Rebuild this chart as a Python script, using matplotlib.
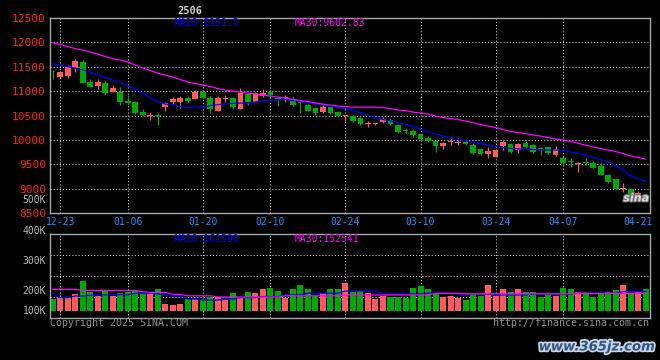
import numpy as np
import matplotlib
matplotlib.use("Agg")
import matplotlib.pyplot as plt
import matplotlib.patheffects as pe

# trading days on the chart (12-20 .. 04-22)
dates = ["12-20", "12-23", "12-24", "12-25", "12-26", "12-27", "12-30", "12-31",
         "01-02", "01-03", "01-06", "01-07", "01-08", "01-09", "01-10", "01-13",
         "01-14", "01-15", "01-16", "01-17", "01-20", "01-21", "01-22", "01-23",
         "01-24", "01-27", "02-05", "02-06", "02-07", "02-10", "02-11", "02-12",
         "02-13", "02-14", "02-17", "02-18", "02-19", "02-20", "02-21", "02-24",
         "02-25", "02-26", "02-27", "02-28", "03-03", "03-04", "03-05", "03-06",
         "03-07", "03-10", "03-11", "03-12", "03-13", "03-14", "03-17", "03-18",
         "03-19", "03-20", "03-21", "03-24", "03-25", "03-26", "03-27", "03-28",
         "03-31", "04-01", "04-02", "04-03", "04-07", "04-08", "04-09", "04-10",
         "04-11", "04-14", "04-15", "04-16", "04-17", "04-18", "04-21", "04-22"]

opens = [11300, 11300, 11310, 11480, 11590, 11180, 11100, 11160, 10990, 10990,
         10790, 10770, 10580, 10480, 10520, 10680, 10770, 10770, 10865, 10840,
         10975, 10855, 10600, 10845, 10866, 10640, 10950, 10785, 10890, 10990,
         10860, 10850, 10830, 10765, 10716, 10650, 10570, 10680, 10570, 10480,
         10495, 10440, 10320, 10320, 10360, 10415, 10300, 10200, 10190, 10120,
         10040, 9985, 9865, 9960, 9945, 9965, 9890, 9810, 9710, 9655,
         9865, 9915, 9790, 9945, 9890, 9825, 9850, 9700, 9620, 9555,
         9515, 9545, 9530, 9465, 9280, 9190, 9000, 8990, 8770, 8825]
highs = [11430, 11410, 11530, 11660, 11640, 11250, 11250, 11210, 11120, 11080,
         10930, 10790, 10630, 10570, 10560, 10780, 10870, 10890, 10890, 11020,
         11000, 10900, 10900, 10930, 10870, 11060, 10960, 10990, 11040, 11030,
         10870, 10920, 10900, 10790, 10730, 10680, 10740, 10700, 10590, 10520,
         10510, 10460, 10380, 10350, 10460, 10440, 10330, 10250, 10220, 10140,
         10075, 10000, 9960, 10050, 10030, 9990, 9930, 9830, 9860, 9810,
         10000, 9930, 9945, 9970, 9910, 9860, 9870, 9870, 9660, 9630,
         9555, 9620, 9560, 9540, 9300, 9200, 9110, 9000, 8960, 8905]
lows = [11240, 11270, 11260, 11400, 11160, 11080, 11050, 10930, 10980, 10720,
        10720, 10530, 10480, 10400, 10300, 10590, 10740, 10660, 10770, 10830,
        10840, 10560, 10590, 10780, 10640, 10630, 10720, 10780, 10880, 10840,
        10700, 10770, 10700, 10555, 10590, 10510, 10560, 10530, 10470, 10380,
        10370, 10300, 10260, 10300, 10340, 10300, 10150, 10130, 10060, 10000,
        9960, 9760, 9820, 9900, 9890, 9890, 9710, 9700, 9620, 9640,
        9790, 9740, 9740, 9830, 9740, 9690, 9710, 9660, 9480, 9450,
        9340, 9480, 9420, 9270, 9120, 8980, 8940, 8720, 8760, 8730]
closes = [11280, 11390, 11510, 11610, 11170, 11090, 11180, 10970, 11060, 10770,
          10765, 10560, 10510, 10495, 10500, 10750, 10840, 10850, 10790, 10990,
          10860, 10630, 10866, 10855, 10675, 10970, 10785, 10970, 10960, 10920,
          10845, 10870, 10716, 10750, 10600, 10550, 10670, 10545, 10495, 10490,
          10385, 10320, 10330, 10345, 10420, 10320, 10165, 10190, 10100, 10010,
          9970, 9865, 9945, 9970, 9955, 9920, 9740, 9710, 9775, 9790,
          9965, 9760, 9915, 9850, 9760, 9815, 9730, 9810, 9520, 9545,
          9525, 9535, 9430, 9280, 9130, 8985, 9010, 8730, 8905, 8815]

ma10 = [11555, 11534, 11503, 11473, 11432, 11391, 11329, 11278, 11227, 11175,
        11104, 11042, 10960, 10858, 10786, 10735, 10714, 10683, 10667, 10673,
        10673, 10704, 10724, 10735, 10749, 10755, 10755, 10776, 10802, 10817,
        10817, 10827, 10806, 10786, 10765, 10735, 10714, 10694, 10663, 10642,
        10601, 10560, 10509, 10458, 10417, 10386, 10355, 10314, 10273, 10222,
        10167, 10120, 10079, 10038, 10007, 9982, 9956, 9925, 9894, 9859,
        9843, 9826, 9816, 9806, 9802, 9796, 9792, 9792, 9792, 9751,
        9720, 9689, 9638, 9597, 9546, 9474, 9371, 9269, 9197, 9152]
ma30 = [11989, 11958, 11913, 11872, 11842, 11800, 11760, 11708, 11667, 11637,
        11596, 11534, 11473, 11421, 11370, 11329, 11288, 11237, 11186, 11155,
        11124, 11093, 11052, 11022, 11001, 10980, 10960, 10940, 10919, 10899,
        10878, 10857, 10827, 10806, 10786, 10755, 10734, 10714, 10693, 10683,
        10673, 10673, 10673, 10673, 10663, 10642, 10611, 10601, 10570, 10550,
        10529, 10488, 10458, 10437, 10417, 10386, 10355, 10314, 10283, 10253,
        10212, 10171, 10150, 10130, 10099, 10078, 10048, 10017, 9996, 9966,
        9929, 9894, 9853, 9822, 9791, 9761, 9720, 9668, 9638, 9603]

volumes = [124000, 127500, 127500, 149000, 214000, 160500, 140500, 165500, 140500, 152500,
           157500, 167500, 152500, 149000, 174000, 99000, 94000, 99000, 124000, 124000,
           124000, 135500, 135500, 119000, 155500, 135500, 160500, 155500, 174000, 180500,
           164000, 130500, 174000, 194000, 174000, 140500, 155500, 174000, 174000, 204000,
           157500, 164000, 152500, 124000, 140500, 132500, 135500, 130500, 180500, 189000,
           174000, 152500, 135500, 140500, 130500, 119000, 152500, 140500, 194000, 139000,
           174000, 157500, 174000, 160500, 157500, 135500, 152500, 139000, 180500, 174000,
           157500, 157500, 135500, 152500, 157500, 169000, 194000, 152500, 164000, 174000]
vol_ma10 = [154000, 131000, 131000, 139000, 139000, 143000, 144000, 145000, 144000, 146000,
            145000, 152000, 153000, 152000, 151000, 141000, 141000, 140000, 124000, 124000,
            119000, 119000, 119000, 124000, 124000, 131000, 131000, 131000, 136000, 136000,
            136000, 144000, 144000, 144000, 153000, 153000, 153000, 153000, 153000, 164000,
            164000, 164000, 164000, 164000, 149000, 149000, 149000, 149000, 149000, 149000,
            153000, 153000, 153000, 153000, 148000, 148000, 148000, 148000, 148000, 144000,
            144000, 144000, 144000, 144000, 148000, 148000, 148000, 148000, 148000, 148000,
            153000, 153000, 153000, 153000, 153000, 153000, 161000, 161000, 161000, 161590]
vol_ma30 = [172000, 172000, 172000, 172000, 167000, 167000, 167000, 167000, 167000, 167000,
            167000, 167000, 160000, 157000, 157000, 157000, 147000, 147000, 140000, 140000,
            140000, 140000, 134000, 134000, 134000, 134000, 134000, 134000, 134000, 134000,
            134000, 140000, 140000, 140000, 140000, 140000, 140000, 140000, 140000, 144000,
            144000, 144000, 144000, 144000, 144000, 144000, 144000, 144000, 144000, 144000,
            144000, 152000, 152000, 152000, 152000, 150000, 150000, 150000, 150000, 150000,
            150000, 150000, 150000, 150000, 150000, 150000, 150000, 150000, 150000, 150000,
            151000, 151000, 151000, 151000, 152000, 152000, 152000, 152000, 152500, 152541]

tick_dates = ["12-23", "01-06", "01-20", "02-10", "02-24", "03-10", "03-24", "04-07", "04-21"]
price_ticks = [8500, 9000, 9500, 10000, 10500, 11000, 11500, 12000, 12500]
vol_labels = ["500K", "400K", "300K", "200K", "100K"]
vol_label_pos = [1.405, 1.036, 0.679, 0.321, 0.083]   # axes fraction, as placed by sina

RED = "#ff5a5a"
GREEN = "#00aa00"
GRID = "#c8c8c8"
FRAME = "#a8a8a8"
MONO = "DejaVu Sans Mono"
dotted = (0, (1, 2))

x = np.arange(len(dates))
o = np.array(opens)
c = np.array(closes)
up = c >= o
colors = [RED if u else GREEN for u in up]

fig = plt.figure(figsize=(6.6, 3.6), dpi=100, facecolor="black")
ax = fig.add_axes([50 / 660, 1 - 213 / 360, 600 / 660, 195 / 360], facecolor="black")
axv = fig.add_axes([50 / 660, 1 - 318 / 360, 600 / 660, 84 / 360], facecolor="black", sharex=ax)

xmin, xmax = -0.36, 79.57
grid_idx = [dates.index(d) for d in tick_dates[:-1]]

# ---- price panel ----
ax.set_xlim(xmin, xmax)
ax.set_ylim(8500, 12500)
ax.set_axisbelow(True)
ax.set_yticks(price_ticks)
ax.set_yticklabels([str(p) for p in price_ticks], color="#ff2020", family=MONO, fontsize=8)
ax.grid(axis="y", color=GRID, linestyle=dotted, linewidth=0.75)
for g in grid_idx:
    ax.axvline(g, color=GRID, linestyle=dotted, linewidth=0.75, zorder=0)
ax.set_xticks([dates.index(d) for d in tick_dates])
ax.set_xticklabels(tick_dates, color="#1e90ff", family=MONO, fontsize=7)
ax.tick_params(length=0, pad=3)

# candles: wicks then bodies
ax.vlines(x, lows, highs, colors=colors, linewidth=0.8, zorder=2)
body_low = np.minimum(o, c)
body_h = np.maximum(np.abs(c - o), 20)
ax.bar(x, body_h, bottom=body_low, width=0.76, color=colors, linewidth=0, zorder=3)

ax.plot(x, ma10, color="#0000ff", linewidth=0.9, zorder=4)
ax.plot(x, ma30, color="#ff00ff", linewidth=0.9, zorder=4)

for s in ax.spines.values():
    s.set_color(FRAME)
    s.set_linewidth(1)

# ---- volume panel ----
VOL_BASE = 64000
vlo, vhi = 29000, 449000
axv.set_ylim(vlo, vhi)
axv.set_axisbelow(True)
axv.set_yticks(np.linspace(vlo, vhi, 5)[1:-1])
axv.set_yticklabels([])
axv.grid(axis="y", color=GRID, linestyle=dotted, linewidth=0.75)
for g in grid_idx:
    axv.axvline(g, color=GRID, linestyle=dotted, linewidth=0.75, zorder=0)
axv.tick_params(length=0, labelbottom=False, labelleft=False)

axv.bar(x, np.array(volumes) - VOL_BASE, bottom=VOL_BASE, width=0.8, color=colors,
        linewidth=0, zorder=2)
axv.plot(x, vol_ma10, color="#0000ff", linewidth=0.9, zorder=4)
axv.plot(x, vol_ma30, color="#ff00ff", linewidth=0.9, zorder=4)

for lab, pos in zip(vol_labels, vol_label_pos):
    axv.text(-0.0067, pos, lab, transform=axv.transAxes, ha="right", va="center",
             color="#b4b4b4", family=MONO, fontsize=7, clip_on=False)

for s in axv.spines.values():
    s.set_color(FRAME)
    s.set_linewidth(1)

# ---- header texts ----
fig.text(190 / 660, 1 - 11 / 360, "2506", color="#d0d0d0", family=MONO, fontsize=7.5,
         fontweight="bold", ha="center", va="center")
fig.text(175 / 660, 1 - 23.5 / 360, "MA10:%.1f" % 9151.5, color="#0000ff", family=MONO,
         fontsize=7, va="center")
fig.text(295 / 660, 1 - 23.5 / 360, "MA30:%.2f" % 9602.83, color="#ff00ff", family=MONO,
         fontsize=7, va="center")
fig.text(175 / 660, 1 - 238.5 / 360, "MA10:161590", color="#0000ff", family=MONO,
         fontsize=7, va="center")
fig.text(295 / 660, 1 - 238.5 / 360, "MA30:152541", color="#ff00ff", family=MONO,
         fontsize=7, va="center")

# footer
fig.text(50 / 660, 1 - 323.5 / 360, "Copyright 2025 SINA.COM", color="#8c8c8c", family=MONO,
         fontsize=7.2, va="center")
fig.text(649 / 660, 1 - 323.5 / 360, "http://finance.sina.com.cn", color="#8c8c8c",
         family=MONO, fontsize=7.2, va="center", ha="right")

# watermarks
ax.text(0.977, 0.075, "sina", transform=ax.transAxes, ha="center", va="center",
        color="#dcdcdc", fontsize=8, fontweight="bold", style="italic", zorder=6,
        path_effects=[pe.withStroke(linewidth=1.5, foreground="#707070")])
fig.text(597 / 660, 1 - 347 / 360, "www.365jz.com", color="#2f5281", fontsize=9.5,
         fontweight="bold", style="italic", ha="center", va="center",
         path_effects=[pe.withStroke(linewidth=2.5, foreground="#c8d6ea")])

fig.savefig("out.png", dpi=100, facecolor="black")
